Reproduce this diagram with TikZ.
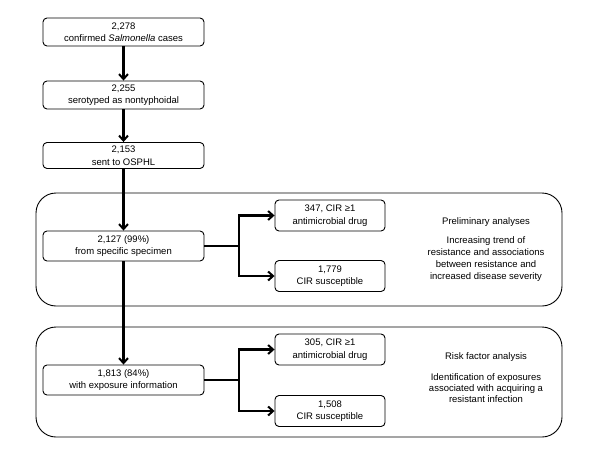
\documentclass[tikz,border=0pt]{standalone}
\usepackage{fontspec}
\setmainfont{Liberation Sans}
\usetikzlibrary{arrows.meta}
\begin{document}
\begin{tikzpicture}[x=1pt,y=-1pt,
  font=\fontsize{9.5}{12.5}\selectfont,
  box/.style={draw=black,line width=0.9pt,rounded corners=4pt,align=center,inner sep=0pt,minimum width=161pt},
  sbox/.style={draw=black,line width=0.9pt,rounded corners=4pt,align=center,inner sep=0pt,minimum width=110pt,minimum height=31pt},
  panel/.style={draw=black,line width=0.9pt,rounded corners=20pt},
  conn/.style={line width=2.1pt,-{Straight Barb[length=5pt,width=9pt,line width=2pt]}},
  line/.style={line width=2.1pt},
  note/.style={align=center,inner sep=0pt,font=\fontsize{9.5}{12}\selectfont}]
\useasboundingbox (0,0) rectangle (600,458);
\draw[panel] (36,193) rectangle (562,306);
\draw[panel] (36,327) rectangle (562,437);
\node[box,minimum height=28pt] (b1) at (123.5,32) {2,278\\confirmed \textit{Salmonella} cases};
\node[box,minimum height=28pt] (b2) at (123.5,95) {2,255\\serotyped as nontyphoidal};
\node[box,minimum height=26pt] (b3) at (123.5,155.5) {2,153\\sent to OSPHL};
\node[box,minimum height=30pt] (b4) at (123.5,246) {2,127 (99\%)\\from specific specimen};
\node[box,minimum height=30pt] (b7) at (123.5,380) {1,813 (84\%)\\with exposure information};
\node[sbox] (b5) at (330,215.5) {347, CIR ≥1\\antimicrobial drug};
\node[sbox] (b6) at (330,276) {1,779\\CIR susceptible};
\node[sbox] (b8) at (330,349.5) {305, CIR ≥1\\antimicrobial drug};
\node[sbox] (b9) at (330,411) {1,508\\CIR susceptible};
\draw[conn] (b1) -- (b2);
\draw[conn] (b2) -- (b3);
\draw[conn] (b3) -- (b4);
\draw[conn] (b4) -- (b7);
\coordinate (j1) at (239,246);
\coordinate (j2) at (239,380);
\draw[line] (b4.east) -- (j1);
\draw[conn] (j1) |- (b5.west);
\draw[conn] (j1) |- (b6.west);
\draw[line] (b7.east) -- (j2);
\draw[conn] (j2) |- (b8.west);
\draw[conn] (j2) |- (b9.west);
\node[note] (h1) at (486,222) {Preliminary analyses};
\node[note] (t1) at (486,259) {Increasing trend of\\resistance and associations\\between resistance and\\increased disease severity};
\node[note] (h2) at (486,357.5) {Risk factor analysis};
\node[note,font=\fontsize{9.5}{10.6}\selectfont] (t2) at (486,388) {Identification of exposures\\associated with acquiring a\\resistant infection};
\end{tikzpicture}
\end{document}
